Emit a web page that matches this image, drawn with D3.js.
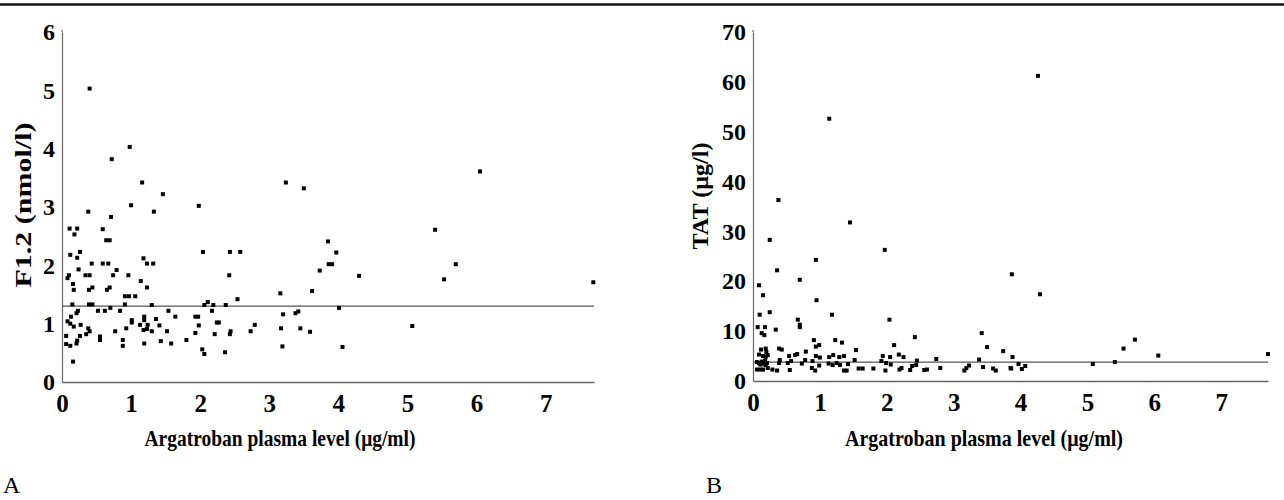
<!DOCTYPE html>
<html>
<head>
<meta charset="utf-8">
<script src="https://cdn.jsdelivr.net/npm/d3@7"></script>
<style>
body { margin: 0; background: #fff; }
text { font-family: "Liberation Serif", "Times New Roman", serif; fill: #000; }
</style>
</head>
<body>
<script>
// tick labels
var xTicks = [0, 1, 2, 3, 4, 5, 6, 7];
var aTicks = [0, 1, 2, 3, 4, 5, 6];
var bTicks = [0, 10, 20, 30, 40, 50, 60, 70];

// panel A: argatroban level vs F1.2
var aArg = [0.40,0.72,0.98,1.16,1.46,3.24,3.50,1.00,1.98,0.38,1.33,0.71,0.11,0.22,0.18,0.59,0.64,0.69,
  0.12,0.26,0.22,0.43,0.59,0.67,1.18,1.23,1.32,2.04,2.43,2.58,0.24,0.08,0.10,0.34,0.40,0.74,0.79,0.96,
  0.16,0.17,0.39,0.44,0.65,0.69,1.14,1.23,0.91,0.97,1.06,2.42,2.54,0.15,0.39,0.44,0.52,0.62,0.70,0.84,
  0.91,1.30,1.54,2.06,2.11,2.19,2.17,2.37,0.23,0.21,0.13,0.08,0.12,0.17,0.06,0.06,0.12,0.22,0.21,0.26,
  0.27,0.16,0.35,0.38,0.40,0.55,0.55,0.77,0.88,0.88,0.93,1.01,1.01,1.13,1.19,1.19,1.18,1.24,1.23,1.19,
  1.30,1.36,1.41,1.43,1.52,1.58,1.64,1.80,1.93,1.97,1.98,1.93,2.03,2.06,2.21,2.24,2.27,2.36,2.44,2.43,
  2.73,2.79,3.16,3.20,3.17,3.19,3.38,3.42,3.45,3.59,3.62,3.73,3.85,3.86,5.40,3.97,3.91,4.30,5.70,5.53,
  7.69,4.01,5.07,4.06,6.05];
var aF12 = [5.03,3.82,4.03,3.42,3.22,3.42,3.32,3.03,3.02,2.92,2.92,2.83,2.63,2.63,2.53,2.62,2.43,2.43,
  2.18,2.23,2.13,2.03,2.03,2.03,2.12,2.03,2.03,2.23,2.23,2.23,1.93,1.78,1.83,1.83,1.83,1.83,1.92,1.83,
  1.68,1.58,1.58,1.62,1.58,1.62,1.73,1.62,1.47,1.47,1.47,1.83,1.42,1.33,1.33,1.33,1.22,1.22,1.27,1.22,
  1.33,1.32,1.22,1.32,1.37,1.32,1.22,1.32,1.22,1.18,1.12,1.04,1.00,0.95,0.79,0.65,0.62,0.71,0.66,0.79,
  0.98,0.35,0.82,0.92,0.87,0.78,0.72,0.87,0.72,0.62,0.92,1.06,1.02,0.98,1.12,1.06,0.89,0.98,0.91,0.66,
  0.87,1.08,0.97,0.70,0.87,0.66,1.12,0.72,1.12,1.12,0.97,0.84,0.56,0.48,0.82,1.02,1.02,0.51,0.87,0.82,
  0.87,0.98,1.52,1.16,0.92,0.61,1.18,1.21,0.92,0.86,1.56,1.91,2.41,2.02,2.61,2.22,2.02,1.82,2.02,1.76,
  1.71,1.27,0.96,0.60,3.61];
var aRef = 1.3;

// panel B: argatroban level vs TAT
var bArg = [1.14,0.38,1.45,0.25,1.97,0.94,0.36,3.87,0.70,0.09,0.15,0.95,0.25,0.10,1.18,2.04,0.67,0.70,
  0.70,0.07,0.18,0.34,0.13,0.17,3.42,2.42,0.91,1.23,1.33,0.99,0.94,2.11,3.50,0.12,0.19,0.20,0.39,0.43,
  1.54,0.79,3.74,0.09,0.15,0.22,0.19,0.54,0.63,0.66,0.94,1.00,1.14,1.20,1.29,1.36,1.94,2.05,2.18,2.25,
  1.52,3.38,3.88,2.74,2.45,3.97,0.06,0.09,0.13,0.18,0.21,0.11,0.16,0.19,0.39,0.40,0.52,0.57,0.73,0.78,
  0.89,0.99,1.13,1.19,1.25,1.30,1.42,1.92,1.99,2.06,2.44,2.38,0.06,0.11,0.15,0.22,0.29,0.36,0.55,0.88,
  0.93,1.36,1.40,1.58,1.64,1.80,1.98,2.19,2.22,2.35,2.56,2.60,2.80,3.16,3.19,3.23,3.44,3.59,3.63,3.86,
  4.26,4.29,5.71,5.54,6.06,7.70,3.85,4.02,4.07,5.08,5.41];
var bTat = [52.6,36.3,31.8,28.3,26.3,24.3,22.2,21.4,20.3,19.2,17.2,16.2,13.8,13.3,13.3,12.3,12.3,11.3,
  10.8,10.8,10.8,10.3,9.6,9.2,9.6,8.8,8.2,8.2,7.7,7.2,6.9,7.2,6.8,6.3,6.5,5.8,6.5,6.3,
  6.2,5.9,6.0,5.3,5.0,5.2,4.8,5.0,5.2,5.4,5.0,4.7,4.8,5.2,4.8,5.0,5.0,4.8,5.3,4.8,
  4.2,4.3,4.8,4.4,4.1,3.4,3.8,3.6,3.9,4.0,3.6,3.3,3.4,3.2,3.6,4.2,3.6,4.0,3.5,4.2,
  4.0,3.1,3.5,3.2,3.6,3.2,3.4,4.0,3.6,3.3,3.2,3.0,2.3,2.3,2.3,2.6,2.3,2.1,2.2,2.6,
  2.1,2.1,2.1,2.5,2.5,2.5,2.1,2.3,2.6,2.2,2.2,2.3,2.6,2.1,2.6,3.1,2.8,2.5,2.1,2.5,
  61.2,17.4,8.3,6.5,5.1,5.4,2.6,2.4,3.0,3.4,3.8];
var bRef = 3.8;

var svg = d3.select("body").append("svg").attr("width", 1284).attr("height", 500);

// scan border at the top
svg.append("line").attr("x1", 0).attr("x2", 1284).attr("y1", 4.5).attr("y2", 4.5)
  .attr("stroke", "#111").attr("stroke-width", 2.5);

function panel(p) {
  var x = d3.scaleLinear().domain([0, 7.7]).range([p.left, p.right]);
  var y = d3.scaleLinear().domain([0, p.max]).range([p.bottom, p.top]);
  var g = svg.append("g");

  var ya = g.append("g").attr("transform", "translate(" + p.left + ",0)")
    .call(d3.axisLeft(y).tickValues(p.ticks).tickFormat(d3.format("d"))
      .tickSize(0).tickSizeOuter(0).tickPadding(7));
  ya.selectAll("text").style("font-size", "24px").style("font-weight", "bold");
  ya.select(".domain").attr("stroke", "#666").attr("stroke-width", 1.2);
  // axis line runs a bit past the top tick
  g.append("line").attr("x1", p.left).attr("x2", p.left).attr("y1", p.top - 2).attr("y2", p.top)
    .attr("stroke", "#666").attr("stroke-width", 1.2);

  var xa = g.append("g").attr("transform", "translate(0," + p.bottom + ")")
    .call(d3.axisBottom(x).tickValues(xTicks).tickFormat(d3.format("d"))
      .tickSize(0).tickSizeOuter(0).tickPadding(12));
  xa.selectAll("text").style("font-size", "25px").style("font-weight", "bold");
  xa.select(".domain").attr("stroke", "#666").attr("stroke-width", 1.5);

  // reference line
  g.append("line").attr("x1", x(0)).attr("x2", x(7.7)).attr("y1", y(p.ref)).attr("y2", y(p.ref))
    .attr("stroke", "#555").attr("stroke-width", 1.2);

  g.selectAll("rect.pt").data(p.xs).enter().append("rect").attr("class", "pt")
    .attr("x", function (d) { return x(d) - 2; })
    .attr("y", function (d, i) { return y(p.ys[i]) - 2; })
    .attr("width", 4).attr("height", 4).attr("fill", "#000");

  g.append("text").attr("x", p.xTitleX).attr("y", 446).attr("text-anchor", "middle")
    .style("font-size", "23px").style("font-weight", "bold")
    .attr("textLength", p.xTitleLen).attr("lengthAdjust", "spacingAndGlyphs")
    .text("Argatroban plasma level (\u03bcg/ml)");

  g.append("text").attr("transform", "translate(" + p.yTitleX + "," + p.yTitleY + ") rotate(-90)")
    .attr("text-anchor", "middle").style("font-size", "23px").style("font-weight", "bold")
    .attr("textLength", p.yTitleLen).attr("lengthAdjust", "spacingAndGlyphs")
    .text(p.yTitle);

  g.append("text").attr("x", p.tagX).attr("y", 493).style("font-size", "24px").text(p.tag);
}

panel({ left: 62, right: 594, top: 32, bottom: 382, max: 6, ticks: aTicks, ref: aRef,
  xs: aArg, ys: aF12, xTitleX: 280, xTitleLen: 271, yTitle: "F1.2 (nmol/l)", yTitleX: 31, yTitleY: 205,
  yTitleLen: 165, tag: "A", tagX: 3 });
panel({ left: 753, right: 1268, top: 32, bottom: 381, max: 70, ticks: bTicks, ref: bRef,
  xs: bArg, ys: bTat, xTitleX: 984, xTitleLen: 278, yTitle: "TAT (\u03bcg/l)", yTitleX: 708, yTitleY: 196,
  yTitleLen: 107, tag: "B", tagX: 706 });
</script>
</body>
</html>
